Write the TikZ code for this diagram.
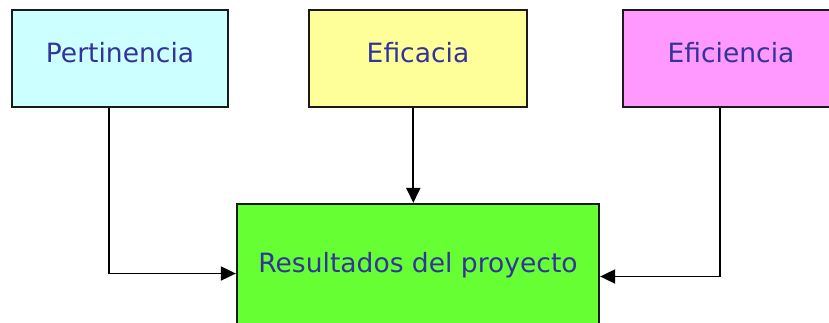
\documentclass[tikz,border=0pt]{standalone}
\usepackage{fontspec}
\setmainfont{DejaVu Sans}
\usetikzlibrary{arrows.meta}
\definecolor{Pert}{HTML}{CCFFFF}
\definecolor{Efic}{HTML}{FFFF99}
\definecolor{Efie}{HTML}{FF99FF}
\definecolor{Res}{HTML}{66FF33}
\definecolor{txt}{HTML}{333399}
\definecolor{borde}{HTML}{1A1A1A}

\begin{document}
\begin{tikzpicture}[
    caja/.style={shape=rectangle, draw=borde, line width=1.3pt, text=txt,
      font=\fontsize{15.1}{18}\selectfont, text height=12pt, text depth=7.4pt,
      minimum height=1.94cm},
    flecha/.style={line width=1.1pt, -{Triangle[length=0.3cm,width=0.28cm]}}]
    \useasboundingbox (0,0) rectangle (16.58,-6.44);

    \node at (2.40, -1.17) (Pe) [caja, fill=Pert, minimum width=4.32cm] {Pertinencia};
    \node at (8.36, -1.17) (Ec) [caja, fill=Efic, minimum width=4.36cm] {Eficacia};
    \node at (14.62, -1.17) (Ei) [caja, fill=Efie, minimum width=4.32cm] {Eficiencia};

    \node at (8.36, -5.37) (Res) [caja, fill=Res, minimum width=7.24cm, minimum height=2.58cm] {Resultados del proyecto};

    \draw[flecha] ([xshift=-0.226cm]Pe.south) |- ([yshift=-0.1cm]Res.west);
    \draw[flecha] ([xshift=-0.094cm]Ec.south) -- ([xshift=-0.094cm]Res.north);
    \draw[flecha] ([xshift=-0.226cm]Ei.south) |- ([yshift=-0.16cm]Res.east);
  \end{tikzpicture}
\end{document}
